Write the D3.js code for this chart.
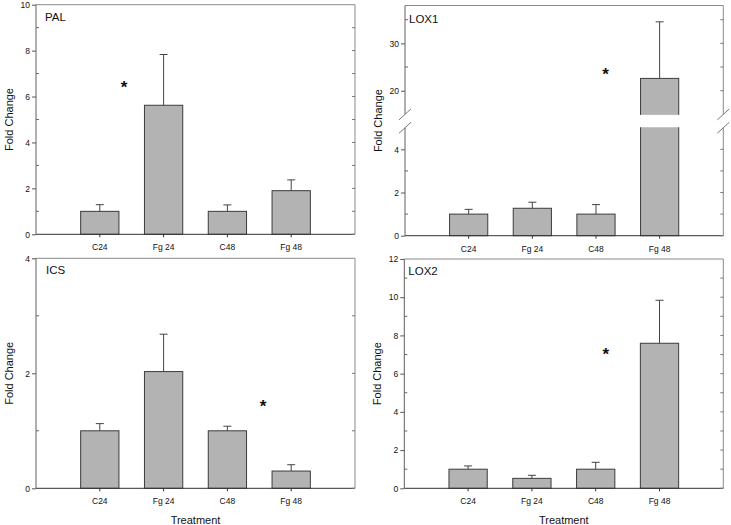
<!DOCTYPE html>
<html>
<head>
<meta charset="utf-8">
<script src="https://cdn.jsdelivr.net/npm/d3@7"></script>
<style>
  body { margin: 0; background: #fff; }
  text { font-family: Arial, "Liberation Sans", sans-serif; fill: #111; }
</style>
</head>
<body>
<div id="chart"></div>
<script>
const width = 731;
const height = 525;

// data
const treatments = ["C24", "Fg 24", "C48", "Fg 48"];

const palMean = [1.0, 5.62, 1.0, 1.9];
const palErr = [0.29, 2.21, 0.28, 0.47];

const lox1Mean = [1.0, 1.27, 1.0, 22.6];
const lox1Err = [0.22, 0.28, 0.44, 11.95];

const icsMean = [1.0, 2.03, 1.0, 0.30];
const icsErr = [0.125, 0.65, 0.08, 0.11];

const lox2Mean = [1.0, 0.52, 1.0, 7.59];
const lox2Err = [0.17, 0.16, 0.36, 2.25];

// asterisks: [category position, fold change]
const palStar = [0.38, 6.6];
const lox1Star = [2.15, 24.3];
const icsStar = [2.56, 1.5];
const lox2Star = [2.16, 7.24];

const palTicks = [0, 2, 4, 6, 8, 10];
const palMinor = [1, 3, 5, 7, 9];
const icsTicks = [0, 2, 4];
const icsMinor = [1, 3];
const lox2Ticks = [0, 2, 4, 6, 8, 10, 12];
const lox2Minor = [1, 3, 5, 7, 9, 11];
const lox1LowTicks = [0, 2, 4];
const lox1LowMinor = [1, 3];
const lox1HighTicks = [20, 30];
const lox1HighMinor = [25, 35];

const panels = [
  { name: "PAL", mean: palMean, err: palErr, star: palStar,
    box: { l: 36, r: 355, t: 4.7, b: 234.3 }, titleDx: 9, titleY: 20.7,
    segs: [{ domain: [0, 10], f: [0, 1], ticks: palTicks, minor: palMinor }] },
  { name: "LOX1", mean: lox1Mean, err: lox1Err, star: lox1Star,
    box: { l: 405, r: 723.3, t: 5.5, b: 235.7 }, titleDx: 4, titleY: 22.7,
    segs: [
      { domain: [0, 5], f: [0, 0.469], ticks: lox1LowTicks, minor: lox1LowMinor },
      { domain: [15, 38], f: [0.527, 1], ticks: lox1HighTicks, minor: lox1HighMinor }
    ] },
  { name: "ICS", mean: icsMean, err: icsErr, star: icsStar,
    box: { l: 36, r: 355, t: 258.3, b: 488.3 }, titleDx: 10, titleY: 274,
    segs: [{ domain: [0, 4], f: [0, 1], ticks: icsTicks, minor: icsMinor }] },
  { name: "LOX2", mean: lox2Mean, err: lox2Err, star: lox2Star,
    box: { l: 404.3, r: 723.3, t: 259, b: 488.3 }, titleDx: 4, titleY: 275,
    segs: [{ domain: [0, 12], f: [0, 1], ticks: lox2Ticks, minor: lox2Minor }] }
];

const svg = d3.select("#chart")
  .append("svg")
  .attr("width", width)
  .attr("height", height)
  .style("background", "#fff");

panels.forEach(p => drawPanel(p));

// x axis titles under the bottom row
[panels[2], panels[3]].forEach(p => {
  svg.append("text")
    .attr("x", (p.box.l + p.box.r) / 2)
    .attr("y", 523.5)
    .attr("text-anchor", "middle")
    .style("font-size", "11px")
    .text("Treatment");
});

function drawPanel(p) {
  const { l, r, t, b } = p.box;
  const h = b - t;
  const g = svg.append("g");

  const x = d3.scaleLinear().domain([-1, 4]).range([l, r]);
  const barW = (x(1) - x(0)) * 0.6;

  p.segs.forEach(s => {
    s.scale = d3.scaleLinear().domain(s.domain).range([b - s.f[0] * h, b - s.f[1] * h]);
  });
  const y = v => {
    const s = p.segs.find(s => v <= s.domain[1]) || p.segs[p.segs.length - 1];
    return s.scale(Math.max(v, s.domain[0]));
  };

  const idx = d3.range(treatments.length);

  // bars
  g.selectAll(".bar")
    .data(idx)
    .enter()
    .append("rect")
    .attr("x", i => x(i) - barW / 2)
    .attr("y", i => y(p.mean[i]))
    .attr("width", barW)
    .attr("height", i => y(0) - y(p.mean[i]))
    .attr("fill", "#b3b3b3")
    .attr("stroke", "#3c3c3c")
    .attr("stroke-width", 1);

  // error bars (upper only)
  idx.forEach(i => {
    const top = y(p.mean[i] + p.err[i]);
    g.append("line")
      .attr("x1", x(i)).attr("x2", x(i))
      .attr("y1", y(p.mean[i])).attr("y2", top)
      .attr("stroke", "#444");
    g.append("line")
      .attr("x1", x(i) - 4).attr("x2", x(i) + 4)
      .attr("y1", top).attr("y2", top)
      .attr("stroke", "#444");
  });

  // break gap across the plot
  if (p.segs.length > 1) {
    const gapBot = p.segs[0].scale.range()[1];
    const gapTop = p.segs[1].scale.range()[0];
    g.append("rect")
      .attr("x", l + 1)
      .attr("y", gapTop + 0.5)
      .attr("width", r - l - 2)
      .attr("height", gapBot - gapTop - 1)
      .attr("fill", "#fff");
  }

  // frame: top and right lighter, left and bottom darker
  g.append("line")
    .attr("x1", l).attr("x2", r).attr("y1", t).attr("y2", t)
    .attr("stroke", "#8a8a8a");
  p.segs.forEach(s => {
    const [y0, y1] = s.scale.range();
    const yTop = s === p.segs[p.segs.length - 1] ? t : y1;
    g.append("line")
      .attr("x1", r).attr("x2", r).attr("y1", y0).attr("y2", yTop)
      .attr("stroke", "#8a8a8a");
    g.append("line")
      .attr("x1", l).attr("x2", l).attr("y1", y0).attr("y2", yTop)
      .attr("stroke", "#606060");
  });
  g.append("line")
    .attr("x1", l).attr("x2", r).attr("y1", b).attr("y2", b)
    .attr("stroke", "#333");

  // break marks
  if (p.segs.length > 1) {
    const edges = [p.segs[0].scale.range()[1], p.segs[1].scale.range()[0]];
    [l, r].forEach(ax => {
      edges.forEach(ey => {
        g.append("line")
          .attr("x1", ax - 6).attr("y1", ey + 5.5)
          .attr("x2", ax + 6).attr("y2", ey - 5.5)
          .attr("stroke", "#777");
      });
    });
  }

  // y axis ticks and labels
  p.segs.forEach(s => {
    const axis = d3.axisLeft(s.scale)
      .tickValues(s.ticks)
      .tickSize(4)
      .tickPadding(2)
      .tickFormat(d3.format("d"));
    const ga = g.append("g")
      .attr("transform", `translate(${l},0)`)
      .call(axis);
    ga.select(".domain").remove();
    ga.selectAll(".tick line").attr("stroke", "#555");
    ga.selectAll(".tick text")
      .style("font-size", "8.5px")
      .attr("fill", "#111");

    s.minor.forEach(v => {
      g.append("line")
        .attr("x1", l).attr("x2", l + 3)
        .attr("y1", s.scale(v)).attr("y2", s.scale(v))
        .attr("stroke", "#666");
    });
    s.ticks.concat(s.minor).forEach(v => {
      if (s.scale(v) < t + 1) return;
      g.append("line")
        .attr("x1", r - 3).attr("x2", r)
        .attr("y1", s.scale(v)).attr("y2", s.scale(v))
        .attr("stroke", "#777");
    });
  });

  // x ticks and labels
  idx.forEach(i => {
    g.append("line")
      .attr("x1", x(i)).attr("x2", x(i))
      .attr("y1", b).attr("y2", b + 3)
      .attr("stroke", "#333");
    g.append("text")
      .attr("x", x(i))
      .attr("y", b + 15.8)
      .attr("text-anchor", "middle")
      .style("font-size", "8.5px")
      .text(treatments[i]);
  });

  // panel title
  g.append("text")
    .attr("x", l + p.titleDx)
    .attr("y", p.titleY)
    .style("font-size", "11.5px")
    .text(p.name);

  // y title
  g.append("text")
    .attr("transform", `translate(${l - 23.5},${(t + b) / 2}) rotate(-90)`)
    .attr("text-anchor", "middle")
    .style("font-size", "11px")
    .text("Fold Change");

  // significance star
  g.append("text")
    .attr("x", x(p.star[0]))
    .attr("y", y(p.star[1]) + 10)
    .attr("text-anchor", "middle")
    .style("font-size", "17px")
    .style("font-weight", "bold")
    .text("*");
}
</script>
</body>
</html>
